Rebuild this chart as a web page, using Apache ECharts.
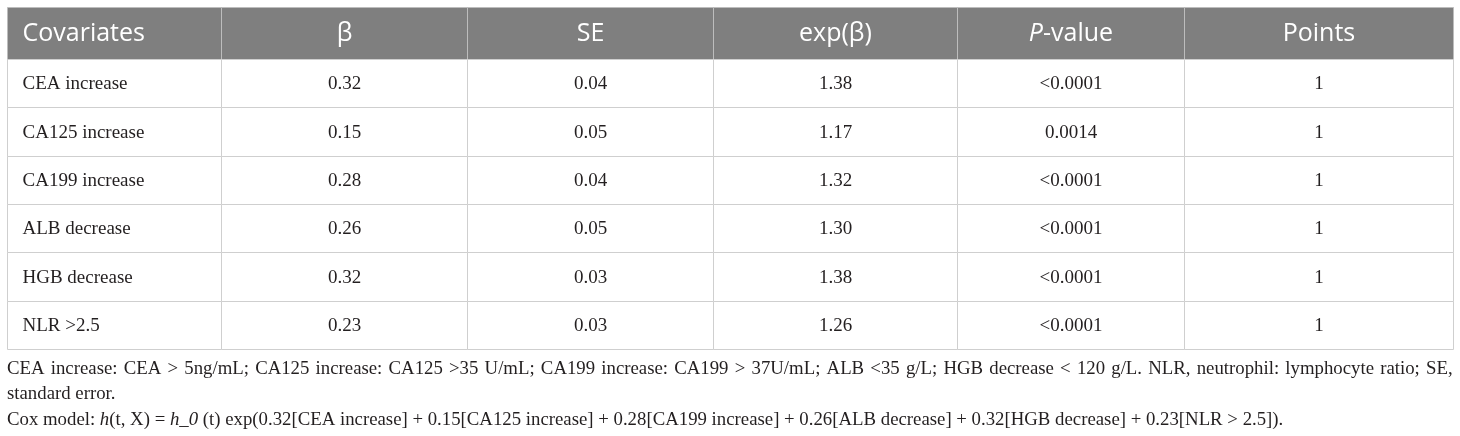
<!DOCTYPE html>
<html>
<head>
<meta charset="utf-8">
<script src="https://cdn.jsdelivr.net/npm/echarts@6/dist/echarts.min.js"></script>
<style>
  html, body { margin: 0; padding: 0; background: #fff; }
  #chart { width: 1460px; height: 436px; }
</style>
</head>
<body>
<div id="chart"></div>
<script>
// table content
const columns = ['Covariates', 'β', 'SE', 'exp(β)', '{i|P}-value', 'Points'];
const covariates = ['CEA increase', 'CA125 increase', 'CA199 increase', 'ALB decrease', 'HGB decrease', 'NLR >2.5'];
const beta = [0.32, 0.15, 0.28, 0.26, 0.32, 0.23];
const se = [0.04, 0.05, 0.04, 0.05, 0.03, 0.03];
const expBeta = [1.38, 1.17, 1.32, 1.30, 1.38, 1.26];
const pValue = ['<0.0001', '0.0014', '<0.0001', '<0.0001', '<0.0001', '<0.0001'];
const points = [1, 1, 1, 1, 1, 1];

const note1 = 'CEA increase: CEA > 5ng/mL; CA125 increase: CA125 >35 U/mL; CA199 increase: CA199 > 37U/mL; ALB <35 g/L; HGB decrease < 120 g/L. NLR, neutrophil: lymphocyte ratio; SE,';
const note2 = 'standard error.';
const note3 = 'Cox model: {i|h}(t, X) = {i|h_0} (t) exp(0.32[CEA increase] + 0.15[CA125 increase] + 0.28[CA199 increase] + 0.26[ALB decrease] + 0.32[HGB decrease] + 0.23[NLR > 2.5]).';

// layout of the table (widths/heights in grid units = px)
const colWidths = [214, 246, 246, 244, 227, 269];
const headHeight = 52;
const rowHeight = 48.3;

const colEdges = [0];
colWidths.forEach(w => colEdges.push(colEdges[colEdges.length - 1] + w));
const rowEdges = [0, headHeight];
covariates.forEach(() => rowEdges.push(rowEdges[rowEdges.length - 1] + rowHeight));

// one entry per cell
const cells = [];
columns.forEach((name, c) => cells.push({ value: [c, 0], text: name }));
covariates.forEach((cov, i) => {
    const row = [cov, beta[i].toFixed(2), se[i].toFixed(2), expBeta[i].toFixed(2), pValue[i], String(points[i])];
    row.forEach((t, c) => cells.push({ value: [c, i + 1], text: t }));
});

const serif = '"Liberation Serif", "Times New Roman", serif';
const sans = '"Open Sans", "Noto Sans", sans-serif';
const noteSize = 18.8;

function renderCell(params, api) {
    const c = api.value(0), r = api.value(1);
    const p0 = api.coord([colEdges[c], rowEdges[r]]);
    const p1 = api.coord([colEdges[c + 1], rowEdges[r + 1]]);
    const x = Math.round(p0[0]) + 0.5, y = Math.round(p0[1]) + 0.5;
    const w = Math.round(p1[0]) - Math.round(p0[0]);
    const h = Math.round(p1[1]) - Math.round(p0[1]);
    const head = r === 0;
    const left = c === 0;
    return {
        type: 'group',
        children: [
            {
                type: 'rect',
                shape: { x: x, y: y, width: w, height: h },
                style: { fill: head ? '#7f7f7f' : '#fff', stroke: head ? '#bdbdbd' : '#cfcfcf', lineWidth: 1 }
            },
            {
                type: 'text',
                style: {
                    text: cells[params.dataIndex].text,
                    x: left ? x + 15 : x + w / 2,
                    y: y + h / 2 + (head ? 0 : 1),
                    align: left ? 'left' : 'center',
                    verticalAlign: 'middle',
                    fill: head ? '#fff' : '#231f20',
                    fontFamily: head ? sans : serif,
                    fontSize: head ? 25 : 19,
                    rich: { i: { fontStyle: 'italic', fontFamily: sans, fontSize: 25, fill: '#fff' } }
                }
            }
        ]
    };
}

// justified first footnote line: widen the spaces
const note1Rich = note1.split(' ').join('{sp| }');

const chart = echarts.init(document.getElementById('chart'));
chart.setOption({
    animation: false,
    grid: { left: 7, top: 7, width: colEdges[colEdges.length - 1], height: rowEdges[rowEdges.length - 1] },
    xAxis: { type: 'value', min: 0, max: colEdges[colEdges.length - 1], show: false },
    yAxis: { type: 'value', min: 0, max: rowEdges[rowEdges.length - 1], inverse: true, show: false },
    series: [{
        type: 'custom',
        clip: false,
        renderItem: renderCell,
        data: cells.map(d => d.value)
    }],
    graphic: [
        {
            type: 'text', left: 7, top: 360,
            style: { text: note1Rich, fontFamily: serif, fontSize: noteSize, fill: '#231f20',
                rich: { sp: { width: 6.2, fontFamily: serif, fontSize: noteSize } } }
        },
        {
            type: 'text', left: 7, top: 385,
            style: { text: note2, fontFamily: serif, fontSize: noteSize, fill: '#231f20' }
        },
        {
            type: 'text', left: 7, top: 411,
            style: { text: note3, fontFamily: serif, fontSize: noteSize, fill: '#231f20',
                rich: { i: { fontStyle: 'italic', fontFamily: serif, fontSize: noteSize } } }
        }
    ]
});
</script>
</body>
</html>
